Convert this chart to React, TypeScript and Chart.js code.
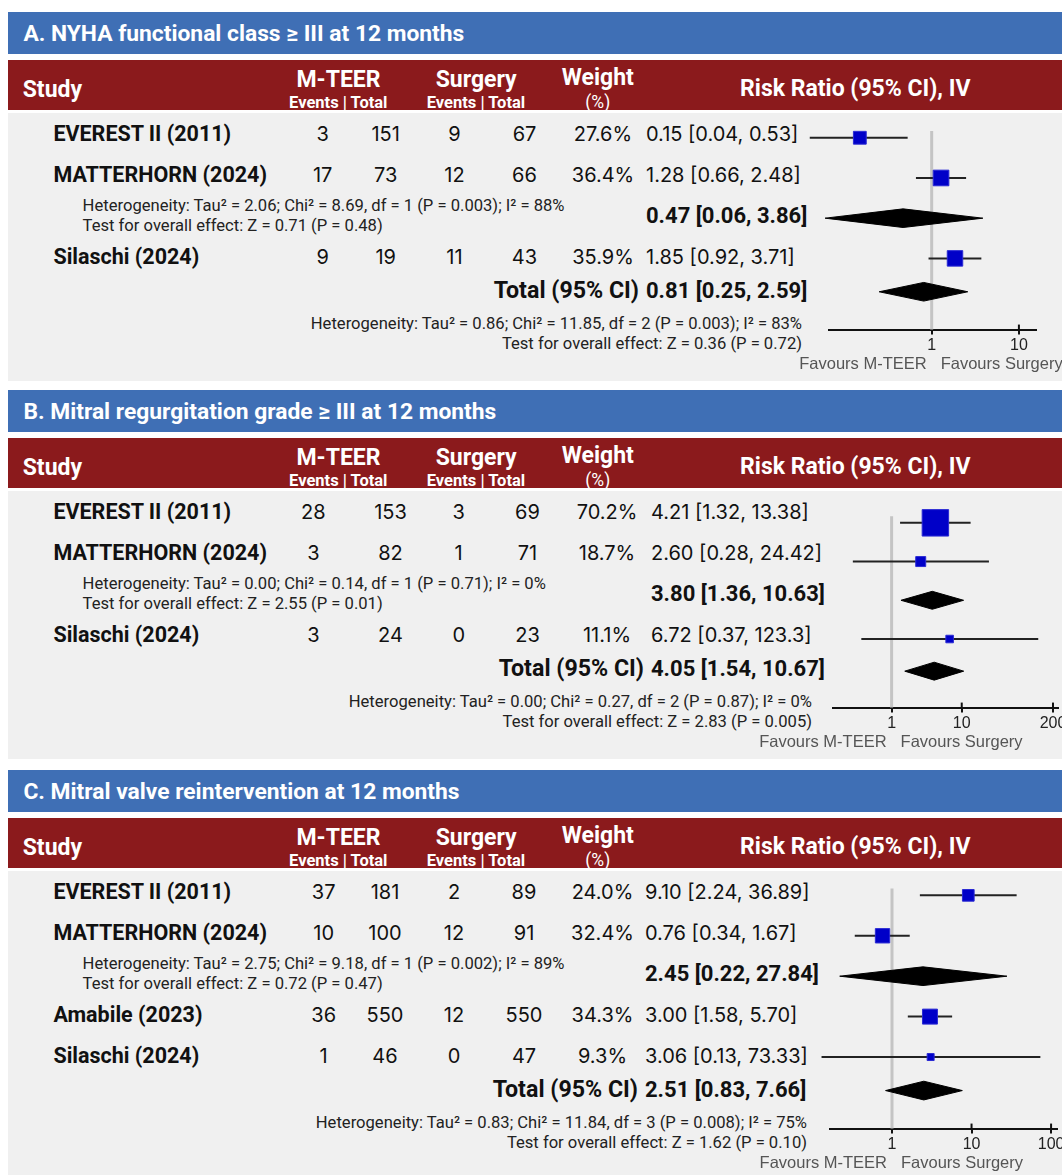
import React, { useEffect, useRef } from "react";
import { Chart, registerables } from "chart.js";

Chart.register(...registerables);

// ---------------- Panel A ----------------
const titleA = "A. NYHA functional class ≥ III at 12 months";
const studiesA = ["EVEREST II (2011)", "MATTERHORN (2024)", "Silaschi (2024)"];
const mteerEventsA = [3, 17, 9];
const mteerTotalA = [151, 73, 19];
const surgeryEventsA = [9, 12, 11];
const surgeryTotalA = [67, 66, 43];
const weightA = [27.6, 36.4, 35.9];
const rrA = [0.15, 1.28, 1.85];
const lowerA = [0.04, 0.66, 0.92];
const upperA = [0.53, 2.48, 3.71];
const subgroupA = [0.47, 0.06, 3.86];
const subgroupTextA = [
  "Heterogeneity: Tau² = 2.06; Chi² = 8.69, df = 1 (P = 0.003); I² = 88%",
  "Test for overall effect: Z = 0.71 (P = 0.48)",
];
const totalA = [0.81, 0.25, 2.59];
const totalTextA = [
  "Heterogeneity: Tau² = 0.86; Chi² = 11.85, df = 2 (P = 0.003); I² = 83%",
  "Test for overall effect: Z = 0.36 (P = 0.72)",
];
const ticksA = [1, 10];
const rangeA = [0.067, 15.7];

// ---------------- Panel B ----------------
const titleB = "B. Mitral regurgitation grade ≥ III at 12 months";
const studiesB = ["EVEREST II (2011)", "MATTERHORN (2024)", "Silaschi (2024)"];
const mteerEventsB = [28, 3, 3];
const mteerTotalB = [153, 82, 24];
const surgeryEventsB = [3, 1, 0];
const surgeryTotalB = [69, 71, 23];
const weightB = [70.2, 18.7, 11.1];
const rrB = [4.21, 2.6, 6.72];
const lowerB = [1.32, 0.28, 0.37];
const upperB = [13.38, 24.42, 123.3];
const subgroupB = [3.8, 1.36, 10.63];
const subgroupTextB = [
  "Heterogeneity: Tau² = 0.00; Chi² = 0.14, df = 1 (P = 0.71); I² = 0%",
  "Test for overall effect: Z = 2.55 (P = 0.01)",
];
const totalB = [4.05, 1.54, 10.67];
const totalTextB = [
  "Heterogeneity: Tau² = 0.00; Chi² = 0.27, df = 2 (P = 0.87); I² = 0%",
  "Test for overall effect: Z = 2.83 (P = 0.005)",
];
const ticksB = [1, 10, 200];
const rangeB = [0.145, 232];

// ---------------- Panel C ----------------
const titleC = "C. Mitral valve reintervention at 12 months";
const studiesC = ["EVEREST II (2011)", "MATTERHORN (2024)", "Amabile (2023)", "Silaschi (2024)"];
const mteerEventsC = [37, 10, 36, 1];
const mteerTotalC = [181, 100, 550, 46];
const surgeryEventsC = [2, 12, 12, 0];
const surgeryTotalC = [89, 91, 550, 47];
const weightC = [24.0, 32.4, 34.3, 9.3];
const rrC = [9.1, 0.76, 3.0, 3.06];
const lowerC = [2.24, 0.34, 1.58, 0.13];
const upperC = [36.89, 1.67, 5.7, 73.33];
const subgroupC = [2.45, 0.22, 27.84];
const subgroupTextC = [
  "Heterogeneity: Tau² = 2.75; Chi² = 9.18, df = 1 (P = 0.002); I² = 89%",
  "Test for overall effect: Z = 0.72 (P = 0.47)",
];
const totalC = [2.51, 0.83, 7.66];
const totalTextC = [
  "Heterogeneity: Tau² = 0.83; Chi² = 11.84, df = 3 (P = 0.008); I² = 75%",
  "Test for overall effect: Z = 1.62 (P = 0.10)",
];
const ticksC = [1, 10, 100];
const rangeC = [0.168, 117];

const SUBGROUP_AFTER = 2;
const FAVOURS = ["Favours M-TEER", "Favours Surgery"];
const TOTAL_LABEL = "Total (95% CI)";

// ---------------- Styling / layout ----------------
const BLUE = "#3f6fb5";
const RED = "#8b1a1c";
const BODY_BG = "#f0f0f0";
const ROBOTO = 'Roboto, "Liberation Sans", sans-serif';
const INTER = 'Inter, "Noto Sans", sans-serif';
const ARIAL = '"Liberation Sans", Arial, sans-serif';

const ROW_PX = 41;
const ROW0 = 24;
const BODY_TOP = 98;
const CANVAS_LEFT = 700;
const CANVAS_W = 400;
const PAD_TOP = 8;
const TICK_LEN = 5;
const TICK_FONT = 16;
const TICK_PAD = 1;

const layoutA = { top: 12, height: 368.7, cols: [322.7, 385.7, 454.5, 524.5], weightX: 603, rrX: 646, hetRight: 802, axisLeft: 829.3, axisRight: 1036 };
const layoutB = { top: 390, height: 369, cols: [313.4, 390.5, 458.7, 527.5], weightX: 607, rrX: 651, hetRight: 812, axisLeft: 832.8, axisRight: 1057.5 };
const layoutC = { top: 770, height: 410, cols: [323.7, 385, 454, 524], weightX: 602.5, rrX: 645, hetRight: 807, axisLeft: 830.4, axisRight: 1056.5 };

const fmt = (v: number) => (v >= 100 ? v.toFixed(1) : v.toFixed(2));
const ciText = (e: number, l: number, u: number) => `${fmt(e)} [${fmt(l)}, ${fmt(u)}]`;

type TxtProps = {
  x: number;
  y: number;
  text: string;
  align?: "left" | "center" | "right";
  size: number;
  weight?: number;
  family: string;
  color?: string;
};

function Txt({ x, y, text, align = "left", size, weight = 400, family, color = "#111" }: TxtProps) {
  const tx = align === "left" ? "0" : align === "center" ? "-50%" : "-100%";
  return (
    <div
      style={{
        position: "absolute",
        left: x,
        top: y,
        transform: `translate(${tx},-50%)`,
        fontFamily: family,
        fontSize: size,
        fontWeight: weight,
        color,
        lineHeight: 1,
        whiteSpace: "nowrap",
      }}
    >
      {text}
    </div>
  );
}

const forestPlugin = {
  id: "forestExtras",
  afterDraw(chart: any) {
    const { ctx, chartArea } = chart;
    const xs = chart.scales.x;
    const px1 = xs.getPixelForValue(1);
    const y = chartArea.bottom;
    ctx.save();
    ctx.strokeStyle = "#111";
    ctx.lineWidth = 2;
    xs.ticks.forEach((t: any) => {
      if (t.value === 1) return;
      const tx = xs.getPixelForValue(t.value);
      ctx.beginPath();
      ctx.moveTo(tx, y - 5);
      ctx.lineTo(tx, y);
      ctx.stroke();
    });
    ctx.font = `16.5px ${ARIAL}`;
    ctx.fillStyle = "#555";
    ctx.textBaseline = "middle";
    ctx.textAlign = "right";
    ctx.fillText(FAVOURS[0], px1 - 5, y + 35);
    ctx.textAlign = "left";
    ctx.fillText(FAVOURS[1], px1 + 9, y + 35);
    ctx.restore();
  },
};

type PanelProps = {
  title: string;
  studies: string[];
  mEv: number[];
  mTot: number[];
  sEv: number[];
  sTot: number[];
  weights: number[];
  rr: number[];
  lo: number[];
  hi: number[];
  sub: number[];
  subText: string[];
  total: number[];
  totalText: string[];
  ticks: number[];
  range: number[];
  layout: typeof layoutA;
};

function Panel(p: PanelProps) {
  const ref = useRef<HTMLCanvasElement>(null);
  const L = p.layout;
  const T = L.top;
  const slots = p.studies.map((_, i) => (i < SUBGROUP_AFTER ? i : i + 1));
  const subSlot = SUBGROUP_AFTER;
  const lastSlot = slots[slots.length - 1];
  const totalSlot = lastSlot + 0.83;
  const axisSlot = totalSlot + 0.94;
  const axisRel = ROW0 + ROW_PX * axisSlot;
  const canvasH = Math.round(axisRel + 52);
  const rowY = (s: number) => T + BODY_TOP + ROW0 + ROW_PX * s;
  const axisAbs = T + BODY_TOP + axisRel;

  useEffect(() => {
    const axisBoxH = TICK_LEN + TICK_FONT * 1.2 + 2 * TICK_PAD;
    const padBottom = canvasH - axisRel - axisBoxH;
    const half = 9.5 / ROW_PX;
    const datasets: any[] = [];
    datasets.push({
      data: [
        { x: 1, y: -0.17 },
        { x: 1, y: axisSlot },
      ],
      showLine: true,
      borderColor: "#c4c4c4",
      borderWidth: 3,
      pointRadius: 0,
      order: 3,
      clip: false,
    });
    p.studies.forEach((_, i) => {
      datasets.push({
        data: [
          { x: p.lo[i], y: slots[i] },
          { x: p.hi[i], y: slots[i] },
        ],
        showLine: true,
        borderColor: "#222",
        borderWidth: 2,
        pointRadius: 0,
        order: 2,
        clip: false,
      });
    });
    const diamonds: [number[], number][] = [
      [p.sub, subSlot],
      [p.total, totalSlot],
    ];
    diamonds.forEach(([d, s]) => {
      datasets.push({
        data: [
          { x: d[1], y: s },
          { x: d[0], y: s - half },
          { x: d[2], y: s },
          { x: d[0], y: s + half },
          { x: d[1], y: s },
        ],
        showLine: true,
        fill: "shape",
        backgroundColor: "#000",
        borderColor: "#000",
        borderWidth: 1,
        pointRadius: 0,
        order: 1,
        clip: false,
      });
    });
    datasets.push({
      data: p.rr.map((v, i) => ({ x: v, y: slots[i] })),
      pointStyle: "rect",
      pointRadius: p.weights.map((w) => (4 + 0.32 * w) / Math.SQRT2),
      backgroundColor: "#0000c8",
      borderColor: "#2a2ad4",
      borderWidth: 1,
      order: 0,
      clip: false,
    });

    const chart = new Chart(ref.current as HTMLCanvasElement, {
      type: "scatter",
      data: { datasets },
      options: {
        responsive: false,
        animation: false,
        events: [],
        layout: {
          padding: {
            left: L.axisLeft - CANVAS_LEFT,
            right: CANVAS_LEFT + CANVAS_W - L.axisRight,
            top: PAD_TOP,
            bottom: padBottom,
          },
        },
        plugins: { legend: { display: false }, tooltip: { enabled: false } },
        scales: {
          x: {
            type: "logarithmic",
            min: p.range[0],
            max: p.range[1],
            bounds: "data",
            position: "bottom",
            afterBuildTicks: (s: any) => {
              s.ticks = p.ticks.map((v) => ({ value: v }));
            },
            ticks: {
              callback: (v: any) => String(v),
              color: "#222",
              font: { family: ARIAL, size: TICK_FONT },
              padding: TICK_PAD,
              autoSkip: false,
              maxRotation: 0,
            },
            grid: {
              display: true,
              drawOnChartArea: false,
              drawTicks: true,
              tickLength: TICK_LEN,
              color: "#111",
              lineWidth: 2,
            },
            border: { display: true, color: "#111", width: 2 },
          },
          y: {
            type: "linear",
            display: false,
            reverse: true,
            min: (PAD_TOP - ROW0) / ROW_PX,
            max: axisSlot,
          },
        },
      } as any,
      plugins: [forestPlugin],
    });
    return () => chart.destroy();
  }, []);

  const hdr = T + 48;
  return (
    <>
      <div style={{ position: "absolute", left: 8, top: T, width: 1060, height: 42.3, background: BLUE }} />
      <div style={{ position: "absolute", left: 8, top: hdr, width: 1060, height: 50, background: RED }} />
      <div style={{ position: "absolute", left: 8, top: T + 100.5, width: 1060, height: L.height - 100.5, background: BODY_BG }} />
      <Txt x={23.4} y={T + 22.4} text={p.title} size={22.8} weight={700} family={ROBOTO} color="#fff" />
      <Txt x={22.7} y={T + 76.5} text="Study" size={23} weight={700} family={ROBOTO} color="#fff" />
      <Txt x={338.5} y={T + 66.5} text="M-TEER" align="center" size={23} weight={700} family={ROBOTO} color="#fff" />
      <Txt x={338.3} y={T + 90.6} text="Events | Total" align="center" size={16.5} weight={700} family={ROBOTO} color="#fff" />
      <Txt x={476.2} y={T + 66.5} text="Surgery" align="center" size={23} weight={700} family={ROBOTO} color="#fff" />
      <Txt x={476} y={T + 90.6} text="Events | Total" align="center" size={16.5} weight={700} family={ROBOTO} color="#fff" />
      <Txt x={597.8} y={T + 64.7} text="Weight" align="center" size={23} weight={700} family={ROBOTO} color="#fff" />
      <Txt x={597.8} y={T + 91} text="(%)" align="center" size={17.5} weight={400} family={ROBOTO} color="#fff" />
      <Txt x={855.3} y={T + 76} text="Risk Ratio (95% CI), IV" align="center" size={23} weight={700} family={ROBOTO} color="#fff" />

      {p.studies.map((name, i) => {
        const y = rowY(slots[i]);
        return (
          <React.Fragment key={name}>
            <Txt x={53.4} y={y} text={name} size={21.5} weight={700} family={ROBOTO} />
            <Txt x={L.cols[0]} y={y} text={String(p.mEv[i])} align="center" size={20} family={INTER} />
            <Txt x={L.cols[1]} y={y} text={String(p.mTot[i])} align="center" size={20} family={INTER} />
            <Txt x={L.cols[2]} y={y} text={String(p.sEv[i])} align="center" size={20} family={INTER} />
            <Txt x={L.cols[3]} y={y} text={String(p.sTot[i])} align="center" size={20} family={INTER} />
            <Txt x={L.weightX} y={y} text={`${p.weights[i].toFixed(1)}%`} align="center" size={20} family={INTER} />
            <Txt x={L.rrX} y={y} text={ciText(p.rr[i], p.lo[i], p.hi[i])} size={20} family={INTER} />
          </React.Fragment>
        );
      })}

      <Txt x={82.6} y={rowY(subSlot) - 10} text={p.subText[0]} size={16.6} family={ROBOTO} color="#222" />
      <Txt x={82.6} y={rowY(subSlot) + 10} text={p.subText[1]} size={16.6} family={ROBOTO} color="#222" />
      <Txt x={L.rrX} y={rowY(subSlot)} text={ciText(p.sub[0], p.sub[1], p.sub[2])} size={22} weight={700} family={ROBOTO} />

      <Txt x={L.rrX - 7} y={rowY(totalSlot)} text={TOTAL_LABEL} align="right" size={23.2} weight={700} family={ROBOTO} />
      <Txt x={L.rrX} y={rowY(totalSlot)} text={ciText(p.total[0], p.total[1], p.total[2])} size={22} weight={700} family={ROBOTO} />
      <Txt x={L.hetRight} y={axisAbs - 6} text={p.totalText[0]} align="right" size={16.6} family={ROBOTO} color="#222" />
      <Txt x={L.hetRight} y={axisAbs + 14} text={p.totalText[1]} align="right" size={16.6} family={ROBOTO} color="#222" />

      <canvas
        ref={ref}
        width={CANVAS_W}
        height={canvasH}
        style={{ position: "absolute", left: CANVAS_LEFT, top: T + BODY_TOP, width: CANVAS_W, height: canvasH }}
      />
    </>
  );
}

export default function App() {
  return (
    <div
      style={{
        position: "fixed",
        left: 0,
        top: 0,
        width: 1062,
        height: 1175,
        overflow: "hidden",
        background: "#fff",
      }}
    >
      <Panel
        title={titleA}
        studies={studiesA}
        mEv={mteerEventsA}
        mTot={mteerTotalA}
        sEv={surgeryEventsA}
        sTot={surgeryTotalA}
        weights={weightA}
        rr={rrA}
        lo={lowerA}
        hi={upperA}
        sub={subgroupA}
        subText={subgroupTextA}
        total={totalA}
        totalText={totalTextA}
        ticks={ticksA}
        range={rangeA}
        layout={layoutA}
      />
      <Panel
        title={titleB}
        studies={studiesB}
        mEv={mteerEventsB}
        mTot={mteerTotalB}
        sEv={surgeryEventsB}
        sTot={surgeryTotalB}
        weights={weightB}
        rr={rrB}
        lo={lowerB}
        hi={upperB}
        sub={subgroupB}
        subText={subgroupTextB}
        total={totalB}
        totalText={totalTextB}
        ticks={ticksB}
        range={rangeB}
        layout={layoutB}
      />
      <Panel
        title={titleC}
        studies={studiesC}
        mEv={mteerEventsC}
        mTot={mteerTotalC}
        sEv={surgeryEventsC}
        sTot={surgeryTotalC}
        weights={weightC}
        rr={rrC}
        lo={lowerC}
        hi={upperC}
        sub={subgroupC}
        subText={subgroupTextC}
        total={totalC}
        totalText={totalTextC}
        ticks={ticksC}
        range={rangeC}
        layout={layoutC}
      />
    </div>
  );
}
